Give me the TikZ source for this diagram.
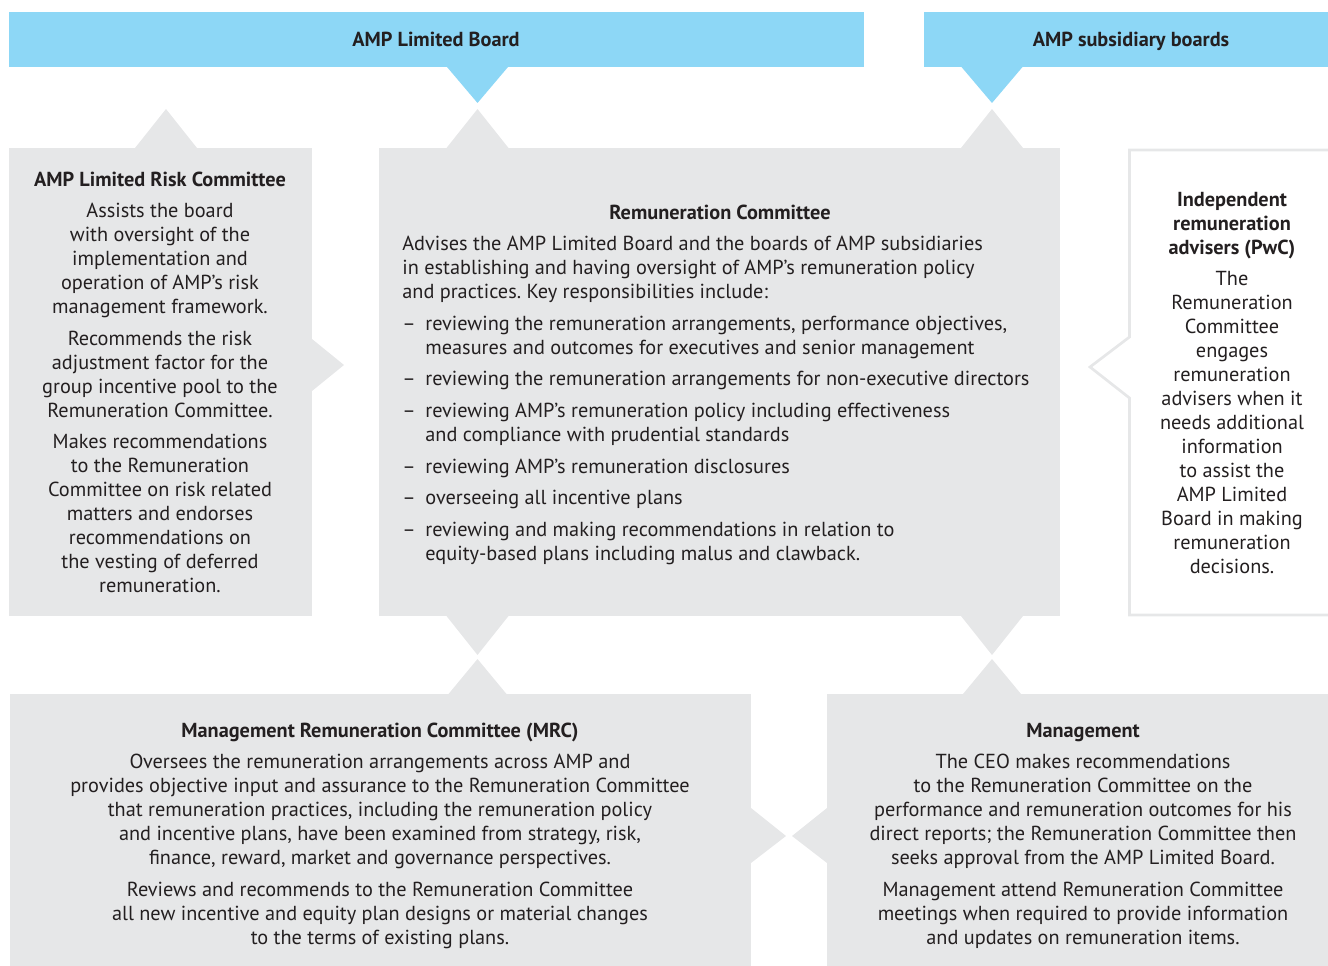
\documentclass[tikz,border=0pt]{standalone}
\usepackage{fontspec}
\setmainfont{PT Sans}
\frenchspacing
\definecolor{boardblue}{HTML}{8DD7F6}
\definecolor{panelgrey}{HTML}{E6E7E8}
\definecolor{ink}{HTML}{231F20}
\newcommand{\pgap}{\\[4.3pt]}
\newcommand{\rdash}{\makebox[13.1pt][l]{--}}
\newcommand{\rind}{\hspace*{13.1pt}}
\tikzset{
  panel/.style={fill=panelgrey},
  board/.style={fill=boardblue},
  txt/.style={inner sep=0pt, text=ink, align=center, font=\fontsize{11.55}{13.66}\selectfont},
}
\begin{document}
\begin{tikzpicture}[x=0.02cm,y=-0.02cm]
\useasboundingbox (0,0) rectangle (1328,966);

% the two boards along the top
\fill[board] (9,12) rectangle (864,67);
\fill[board] (924,12) rectangle (1328,67);
\foreach \x in {477.5,992}
  \fill[board] (\x-30.5,67) -- (\x,103) -- (\x+30.5,67) -- cycle;

% the grey committee boxes
\fill[panel] (9,148) rectangle (312,616);
\fill[panel] (379,148) rectangle (1060,616);
\fill[panel] (10,694) rectangle (751,966);
\fill[panel] (827,694) rectangle (1328,966);
% notches pointing up to the boards
\foreach \x in {166,477.5,992}
  \fill[panel] (\x-31,148) -- (\x,109) -- (\x+31,148) -- cycle;
% notches between the middle row and the bottom row
\foreach \x in {477.5,992}
{
  \fill[panel] (\x-31,616) -- (\x,655) -- (\x+31,616) -- cycle;
  \fill[panel] (\x-29,694) -- (\x,659) -- (\x+29,694) -- cycle;
}
% side notches
\fill[panel] (312,339) -- (344,365) -- (312,391) -- cycle;
\fill[panel] (751,808) -- (786,836) -- (751,863) -- cycle;
\fill[panel] (827,808) -- (792,836) -- (827,863) -- cycle;

% the white advisers box, outlined only
\draw[panelgrey,line width=2.7*0.02cm]
  (1330,150) -- (1129.5,150) -- (1129.5,337) -- (1090,367)
  -- (1129.5,398) -- (1129.5,615) -- (1330,615);

% labels on the boards
\node[txt,anchor=base] (ltdboard) at (436,47) {\textbf{AMP Limited Board}};
\node[txt,anchor=base] (subboards) at (1131,47) {\textbf{AMP subsidiary boards}};

% risk committee
\node[txt,anchor=north] (risk) at (160,172) {%
  \textbf{AMP Limited Risk Committee}\\[4pt]
  Assists the board\\ with oversight of the\\ implementation and\\
  operation of AMP’s risk\\ management framework.\pgap
  Recommends the risk\\ adjustment factor for the\\ group incentive pool to the\\
  Remuneration Committee.\pgap
  Makes recommendations\\ to the Remuneration\\ Committee on risk related\\
  matters and endorses\\ recommendations on\\ the vesting of deferred\\ remuneration.};

% remuneration committee
\node[txt,anchor=north] (remtitle) at (720,205) {\textbf{Remuneration Committee}};
\node[txt,align=left,anchor=north west] (rembody) at (402,236) {%
  Advises the AMP Limited Board and the boards of AMP subsidiaries\\
  in establishing and having oversight of AMP’s remuneration policy\\
  and practices. Key responsibilities include:\pgap
  \rdash reviewing the remuneration arrangements, performance objectives,\\
  \rind measures and outcomes for executives and senior management\pgap
  \rdash reviewing the remuneration arrangements for non-executive directors\pgap
  \rdash reviewing AMP’s remuneration policy including effectiveness\\
  \rind and compliance with prudential standards\pgap
  \rdash reviewing AMP’s remuneration disclosures\pgap
  \rdash overseeing all incentive plans\pgap
  \rdash reviewing and making recommendations in relation to\\
  \rind equity-based plans including malus and clawback.};

% independent advisers
\node[txt,anchor=north] (advisers) at (1232,192) {%
  \textbf{Independent}\\ \textbf{remuneration}\\ \textbf{advisers (PwC)}\\[4pt]
  The\\ Remuneration\\ Committee\\ engages\\ remuneration\\ advisers when it\\
  needs additional\\ information\\ to assist the\\ AMP Limited\\ Board in making\\
  remuneration\\ decisions.};

% management remuneration committee
\node[txt,anchor=north] (mrc) at (380,723) {%
  \textbf{Management Remuneration Committee (MRC)}\\[4pt]
  Oversees the remuneration arrangements across AMP and\\
  provides objective input and assurance to the Remuneration Committee\\
  that remuneration practices, including the remuneration policy\\
  and incentive plans, have been examined from strategy, risk,\\
  finance, reward, market and governance perspectives.\pgap
  Reviews and recommends to the Remuneration Committee\\
  all new incentive and equity plan designs or material changes\\
  to the terms of existing plans.};

% management
\node[txt,anchor=north] (mgmt) at (1083,723) {%
  \textbf{Management}\\[4pt]
  The CEO makes recommendations\\ to the Remuneration Committee on the\\
  performance and remuneration outcomes for his\\
  direct reports; the Remuneration Committee then\\
  seeks approval from the AMP Limited Board.\pgap
  Management attend Remuneration Committee\\
  meetings when required to provide information\\
  and updates on remuneration items.};
\end{tikzpicture}
\end{document}
